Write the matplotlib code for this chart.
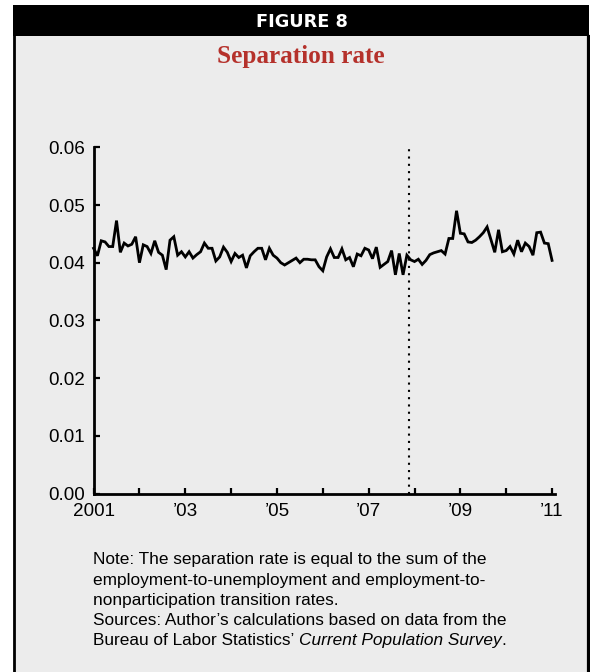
import matplotlib
matplotlib.use("Agg")
import matplotlib.pyplot as plt
from matplotlib.patches import Rectangle
from matplotlib.lines import Line2D
import numpy as np

# ---- data (monthly, Jan 2001 - Jan 2011) ----
start_year = 2001
separation_rate = [
    0.0425, 0.0412, 0.0438, 0.0436, 0.0428, 0.0428, 0.0473, 0.0418, 0.0434, 0.0429, 0.0432, 0.0445,
    0.0400, 0.0431, 0.0428, 0.0416, 0.0438, 0.0418, 0.0413, 0.0388, 0.0439, 0.0445, 0.0413, 0.0419,
    0.0410, 0.0419, 0.0408, 0.0414, 0.0419, 0.0434, 0.0425, 0.0425, 0.0403, 0.0410, 0.0427, 0.0418,
    0.0402, 0.0416, 0.0409, 0.0413, 0.0391, 0.0412, 0.0419, 0.0425, 0.0425, 0.0405, 0.0425, 0.0413,
    0.0408, 0.0400, 0.0396, 0.0400, 0.0404, 0.0408, 0.0400, 0.0406, 0.0406, 0.0405, 0.0405, 0.0393,
    0.0386, 0.0410, 0.0424, 0.0409, 0.0409, 0.0424, 0.0405, 0.0409, 0.0393, 0.0415, 0.0412, 0.0425,
    0.0422, 0.0407, 0.0427, 0.0392, 0.0397, 0.0402, 0.0421, 0.0379, 0.0416, 0.0379, 0.0413, 0.0405,
    0.0402, 0.0406, 0.0397, 0.0404, 0.0414, 0.0417, 0.0419, 0.0421, 0.0415, 0.0442, 0.0442, 0.0490,
    0.0451, 0.0450, 0.0436, 0.0435, 0.0439, 0.0445, 0.0452, 0.0462, 0.0440, 0.0418, 0.0457, 0.0419,
    0.0421, 0.0428, 0.0415, 0.0439, 0.0419, 0.0434, 0.0428, 0.0413, 0.0452, 0.0453, 0.0434, 0.0433,
    0.0404,
]
recession_start = 2007.88
x_tick_years = list(range(2001, 2012))
x_tick_labels = ["2001", "", "\u201903", "", "\u201905", "", "\u201907", "", "\u201909", "", "\u201911"]
y_ticks = [0.00, 0.01, 0.02, 0.03, 0.04, 0.05, 0.06]

header_text = "FIGURE 8"
title_text = "Separation rate"
note_lines = [
    "Note: The separation rate is equal to the sum of the",
    "employment-to-unemployment and employment-to-",
    "nonparticipation transition rates.",
    "Sources: Author\u2019s calculations based on data from the",
]
source_plain = "Bureau of Labor Statistics\u2019 "
source_italic = "Current Population Survey"
source_end = "."

# ---- figure ----
W, H = 590, 672
fig = plt.figure(figsize=(W / 100, H / 100), dpi=100)
fig.patch.set_facecolor("white")

def fx(x):
    return x / W

def fy(y):
    return 1 - y / H

panel_gray = "#ececec"
# panel
fig.add_artist(Rectangle((fx(13), fy(672)), fx(589) - fx(13), fy(36) - fy(672),
                         transform=fig.transFigure, facecolor=panel_gray, edgecolor="none", zorder=0))
# borders
fig.add_artist(Line2D([fx(14.2), fx(14.2)], [fy(36), fy(672)], transform=fig.transFigure,
                      color="black", lw=2.0, zorder=1))
fig.add_artist(Line2D([fx(587.5), fx(587.5)], [fy(36), fy(672)], transform=fig.transFigure,
                      color="black", lw=2.3, zorder=1))
# header band
fig.add_artist(Rectangle((fx(13), fy(36)), fx(589) - fx(13), fy(5) - fy(36),
                         transform=fig.transFigure, facecolor="black", edgecolor="none", zorder=1))

fig.text(fx(301.5), fy(27.3), header_text, color="white", fontsize=12.8, fontweight="heavy",
         family="DejaVu Sans", ha="center", va="baseline", zorder=2)
fig.text(fx(300.6), fy(62.5), title_text, color="#b5312b", fontsize=18.2, fontweight="bold",
         family="Liberation Serif", ha="center", va="baseline", zorder=2)

# ---- axes ----
ax = fig.add_axes([fx(93.6), fy(493.5), fx(554.8) - fx(93.6), fy(147.3) - fy(493.5)])
ax.set_facecolor("none")
months = np.arange(len(separation_rate))
ax.plot(start_year + months / 12.0, separation_rate, color="black", lw=2.0,
        solid_joinstyle="miter", zorder=3, clip_on=False)
ax.axvline(recession_start, ymin=0, ymax=1, color="black", lw=1.5,
           linestyle=(0, (1, 2.5)), zorder=2)

ax.set_xlim(2001, 2011.06)
ax.set_ylim(0, 0.06)
for s in ["top", "right"]:
    ax.spines[s].set_visible(False)
for s in ["left", "bottom"]:
    ax.spines[s].set_linewidth(2.0)
ax.set_xticks(x_tick_years)
ax.set_xticklabels(x_tick_labels)
ax.set_yticks(y_ticks)
ax.set_yticklabels([f"{v:.2f}" for v in y_ticks])
ax.tick_params(direction="in", length=4.3, width=1.6, labelsize=13.6, colors="black")
ax.tick_params(axis="y", pad=6.0)
ax.tick_params(axis="x", pad=6.5)
for lab in ax.get_xticklabels() + ax.get_yticklabels():
    lab.set_family("Liberation Sans")

# ---- note ----
note_fs = 12.4
note_x = fx(93.3)
baselines = [564.3, 584.5, 604.7, 624.9, 645.1]
for line, b in zip(note_lines, baselines):
    fig.text(note_x, fy(b), line, fontsize=note_fs, family="Liberation Sans", ha="left", va="baseline")

renderer = fig.canvas.get_renderer()
t1 = fig.text(note_x, fy(baselines[4]), source_plain, fontsize=note_fs, family="Liberation Sans",
              ha="left", va="baseline")
bb = t1.get_window_extent(renderer)
t2 = fig.text(bb.x1 / W, fy(baselines[4]), source_italic, fontsize=note_fs, family="Liberation Sans",
              style="italic", ha="left", va="baseline")
bb2 = t2.get_window_extent(renderer)
fig.text(bb2.x1 / W, fy(baselines[4]), source_end, fontsize=note_fs, family="Liberation Sans",
         ha="left", va="baseline")

fig.savefig("out.png", dpi=100, facecolor="white")
